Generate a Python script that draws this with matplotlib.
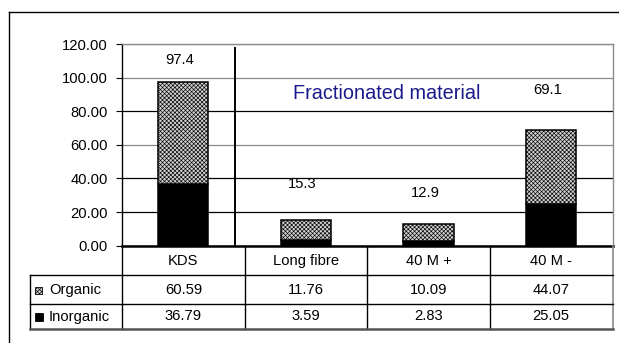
import matplotlib
matplotlib.use("Agg")
import matplotlib.pyplot as plt
from matplotlib.patches import Rectangle
from matplotlib.lines import Line2D

plt.rcParams['font.family'] = ['Liberation Sans', 'DejaVu Sans']
plt.rcParams['hatch.linewidth'] = 0.45
plt.rcParams['hatch.color'] = '#4a4a4a'

# Data
categories = ["KDS", "Long fibre", "40 M +", "40 M -"]
organic = [60.59, 11.76, 10.09, 44.07]
inorganic = [36.79, 3.59, 2.83, 25.05]
totals = [97.4, 15.3, 12.9, 69.1]
series_names = ["Organic", "Inorganic"]
y_ticks = [0, 20, 40, 60, 80, 100, 120]
annotation = "Fractionated material"

FS = 10.6

# Layout
W, H = 619, 343
fig = plt.figure(figsize=(W / 100, H / 100), dpi=100)

px_left, px_right, px_top, px_zero = 122, 612.5, 44, 245.7
ax = fig.add_axes([px_left / W, 1 - px_zero / H,
                   (px_right - px_left) / W, (px_zero - px_top) / H])

x = list(range(len(categories)))
bar_w = 0.41
organic_style = dict(facecolor='#d0d0d0', hatch='xxxxxxxx', edgecolor='black', linewidth=1.1)
ax.bar(x, inorganic, bar_w, color='black', edgecolor='black', linewidth=1.1, zorder=3)
ax.bar(x, organic, bar_w, bottom=inorganic, zorder=3, **organic_style)

ax.set_xlim(-0.5, len(categories) - 0.5)
ax.set_ylim(0, 120)
ax.set_yticks(y_ticks)
ax.set_yticklabels([f"{v:.2f}" for v in y_ticks], fontsize=FS)
ax.tick_params(axis='y', length=4, width=0.8, pad=6, color='black')
ax.set_xticks([])

ax.yaxis.grid(True, zorder=0)
grid_colors = {0: 'black', 20: 'black', 40: 'black', 60: '#8a8a8a',
               80: 'black', 100: '#8a8a8a', 120: '#8a8a8a'}
for val, gl in zip(y_ticks, ax.get_ygridlines()):
    gl.set_color(grid_colors[val])
    gl.set_linewidth(0.9)

for side in ['top', 'right']:
    ax.spines[side].set_color('#8a8a8a')
    ax.spines[side].set_linewidth(1.0)
ax.spines['left'].set_color('black')
ax.spines['left'].set_linewidth(1.0)
ax.spines['bottom'].set_color('black')
ax.spines['bottom'].set_linewidth(1.8)

# Total labels above the bars
label_lift = [13, 21.5, 18.5, 23.5]
for xi, t, lift in zip(x, totals, label_lift):
    ax.text(xi - 0.03, t + lift, f"{t:.1f}", ha='center', va='center', fontsize=FS)

# Separator between the raw sample and the fractions
ax.plot([0.42, 0.42], [0, 117.8], color='black', linewidth=1.4, zorder=4)
ax.text(1.66, 90.5, annotation, ha='center', va='center', fontsize=14.3, color='#1a1a8c')

# Data table under the axis
px_tab_left, px_row1, px_row2, px_bottom = 30, 275, 304, 329
tab = fig.add_axes([px_tab_left / W, 1 - px_bottom / H,
                    (px_right - px_tab_left) / W, (px_bottom - px_zero) / H])
unit = (px_right - px_left) / len(categories)
x_label_left = -0.5 - (px_left - px_tab_left) / unit
tab.set_xlim(x_label_left, len(categories) - 0.5)
tab.set_ylim(px_bottom, px_zero)
tab.axis('off')

lc = 'black'
for xb in [-0.5, 0.5, 1.5, 2.5]:
    tab.add_line(Line2D([xb, xb], [px_zero, px_bottom], color=lc, linewidth=1.0))
tab.add_line(Line2D([3.5, 3.5], [px_zero, px_bottom], color='#8a8a8a', linewidth=1.2))
tab.add_line(Line2D([x_label_left, x_label_left], [px_row1, px_bottom], color=lc, linewidth=1.0))
tab.add_line(Line2D([x_label_left, 3.5], [px_row1, px_row1], color=lc, linewidth=1.0))
tab.add_line(Line2D([x_label_left, 3.5], [px_row2, px_row2], color=lc, linewidth=1.0))
tab.add_line(Line2D([x_label_left, 3.5], [px_bottom - 0.5, px_bottom - 0.5], color='#555555', linewidth=1.8))
for ln in tab.lines:
    ln.set_clip_on(False)

cat_y = (px_zero + px_row1) / 2 + 0.5
org_y = (px_row1 + px_row2) / 2 + 0.5
inorg_y = (px_row2 + px_bottom) / 2
for xi, c in zip(x, categories):
    tab.text(xi, cat_y, c, ha='center', va='center', fontsize=FS)
for xi, v in zip(x, organic):
    tab.text(xi, org_y, f"{v:.2f}", ha='center', va='center', fontsize=FS)
for xi, v in zip(x, inorganic):
    tab.text(xi, inorg_y, f"{v:.2f}", ha='center', va='center', fontsize=FS)

# Legend keys inside the row headers
key_x = x_label_left + 5 / unit
for ky, name, style, size in [(org_y, series_names[0], organic_style, 7),
                              (inorg_y, series_names[1], dict(facecolor='black', edgecolor='black'), 8)]:
    kw = dict(style)
    kw['linewidth'] = 0.6
    tab.add_patch(Rectangle((key_x, ky - size / 2), size / unit, size, clip_on=False, **kw))
    tab.text(key_x + 14 / unit, ky, name, ha='left', va='center', fontsize=FS)

# Chart frame
fig.add_artist(Line2D([9.3 / W, 9.3 / W], [0, 1 - 12 / H], color='black', linewidth=1.0,
                      transform=fig.transFigure))
fig.add_artist(Line2D([9.3 / W, 1], [1 - 12 / H, 1 - 12 / H], color='black', linewidth=1.0,
                      transform=fig.transFigure))

fig.savefig("out.png", dpi=100)
